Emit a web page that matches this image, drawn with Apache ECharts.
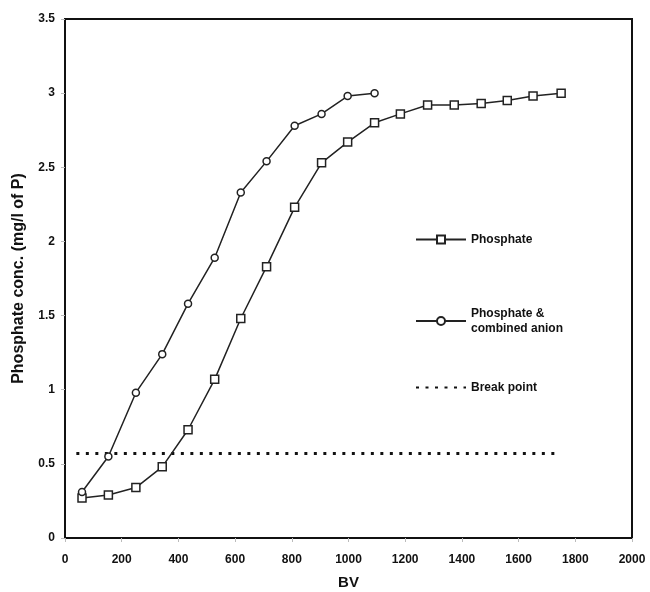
<!DOCTYPE html>
<html>
<head>
<meta charset="utf-8">
<script src="https://cdn.jsdelivr.net/npm/echarts@6/dist/echarts.min.js"></script>
<style>
  html, body { margin: 0; padding: 0; background: #fff; }
  #chart { width: 650px; height: 592px; }
</style>
</head>
<body>
<div id="chart"></div>
<script>
// BV values (x) and concentrations
const bvPhosphate = [60, 153, 250, 343, 434, 528, 620, 711, 810, 905, 997, 1092, 1183, 1279, 1373, 1468, 1560, 1651, 1750];
const concPhosphate = [0.27, 0.29, 0.34, 0.48, 0.73, 1.07, 1.48, 1.83, 2.23, 2.53, 2.67, 2.80, 2.86, 2.92, 2.92, 2.93, 2.95, 2.98, 3.0];
const bvCombined = [60, 153, 250, 343, 434, 528, 620, 711, 810, 905, 997, 1092];
const concCombined = [0.31, 0.55, 0.98, 1.24, 1.58, 1.89, 2.33, 2.54, 2.78, 2.86, 2.98, 3.0];
const breakBV = [40, 1740];
const breakConc = [0.57, 0.57];

const zip = (xs, ys) => xs.map((x, i) => [x, ys[i]]);

const font = "Liberation Sans";
const lineColor = "#222";

const chart = echarts.init(document.getElementById("chart"));

// legend entries placed inside the plot, one block per series
const legendBase = {
  orient: "vertical",
  left: 410,
  itemWidth: 50,
  itemHeight: 10,
  itemGap: 4,
  textStyle: { fontFamily: font, fontWeight: "bold", fontSize: 12, color: "#111", lineHeight: 15 },
  selectedMode: false,
};

chart.setOption({
  animation: false,
  grid: {
    left: 65, right: 18, top: 19, bottom: 54,
    outerBoundsMode: "none",
    containLabel: false,
    show: true, borderColor: "#111", borderWidth: 2,
  },
  legend: [
    Object.assign({}, legendBase, { top: 227, data: ["Phosphate"] }),
    Object.assign({}, legendBase, { top: 301, data: ["Phosphate &\ncombined anion"] }),
    Object.assign({}, legendBase, { top: 375, data: ["Break point"] }),
  ],
  xAxis: {
    type: "value",
    min: 0, max: 2000, interval: 200,
    name: "BV",
    nameLocation: "middle",
    nameGap: 37,
    nameTextStyle: { fontFamily: font, fontWeight: "bold", fontSize: 15, color: "#111" },
    axisLine: { show: true, lineStyle: { color: "#111", width: 2 } },
    axisTick: { show: true, length: 4, lineStyle: { color: "#bbb" } },
    axisLabel: { fontFamily: font, fontWeight: "bold", fontSize: 12, color: "#111", margin: 16, formatter: v => String(v) },
    splitLine: { show: false },
  },
  yAxis: {
    type: "value",
    min: 0, max: 3.5, interval: 0.5,
    name: "Phosphate conc. (mg/l of P)",
    nameLocation: "middle",
    nameGap: 38,
    nameTextStyle: { fontFamily: font, fontWeight: "bold", fontSize: 16, color: "#111" },
    axisLine: { show: true, lineStyle: { color: "#111", width: 2 } },
    axisTick: { show: true, length: 4, lineStyle: { color: "#bbb" } },
    axisLabel: { fontFamily: font, fontWeight: "bold", fontSize: 12, color: "#111", margin: 10 },
    splitLine: { show: false },
  },
  series: [
    {
      name: "Phosphate",
      type: "line",
      data: zip(bvPhosphate, concPhosphate),
      symbol: "rect",
      symbolSize: 8,
      itemStyle: { color: "#fff", borderColor: lineColor, borderWidth: 1.5 },
      lineStyle: { color: lineColor, width: 1.5 },
      z: 3,
    },
    {
      name: "Phosphate &\ncombined anion",
      type: "line",
      data: zip(bvCombined, concCombined),
      symbol: "circle",
      symbolSize: 7,
      itemStyle: { color: "#fff", borderColor: lineColor, borderWidth: 1.5 },
      lineStyle: { color: lineColor, width: 1.5 },
      z: 3,
    },
    {
      name: "Break point",
      type: "line",
      data: zip(breakBV, breakConc),
      showSymbol: false,
      symbol: "none",
      itemStyle: { color: "rgba(0,0,0,0)" },
      lineStyle: { color: "#111", width: 3, type: [3, 6.5] },
      z: 2,
    },
  ],
});
</script>
</body>
</html>
